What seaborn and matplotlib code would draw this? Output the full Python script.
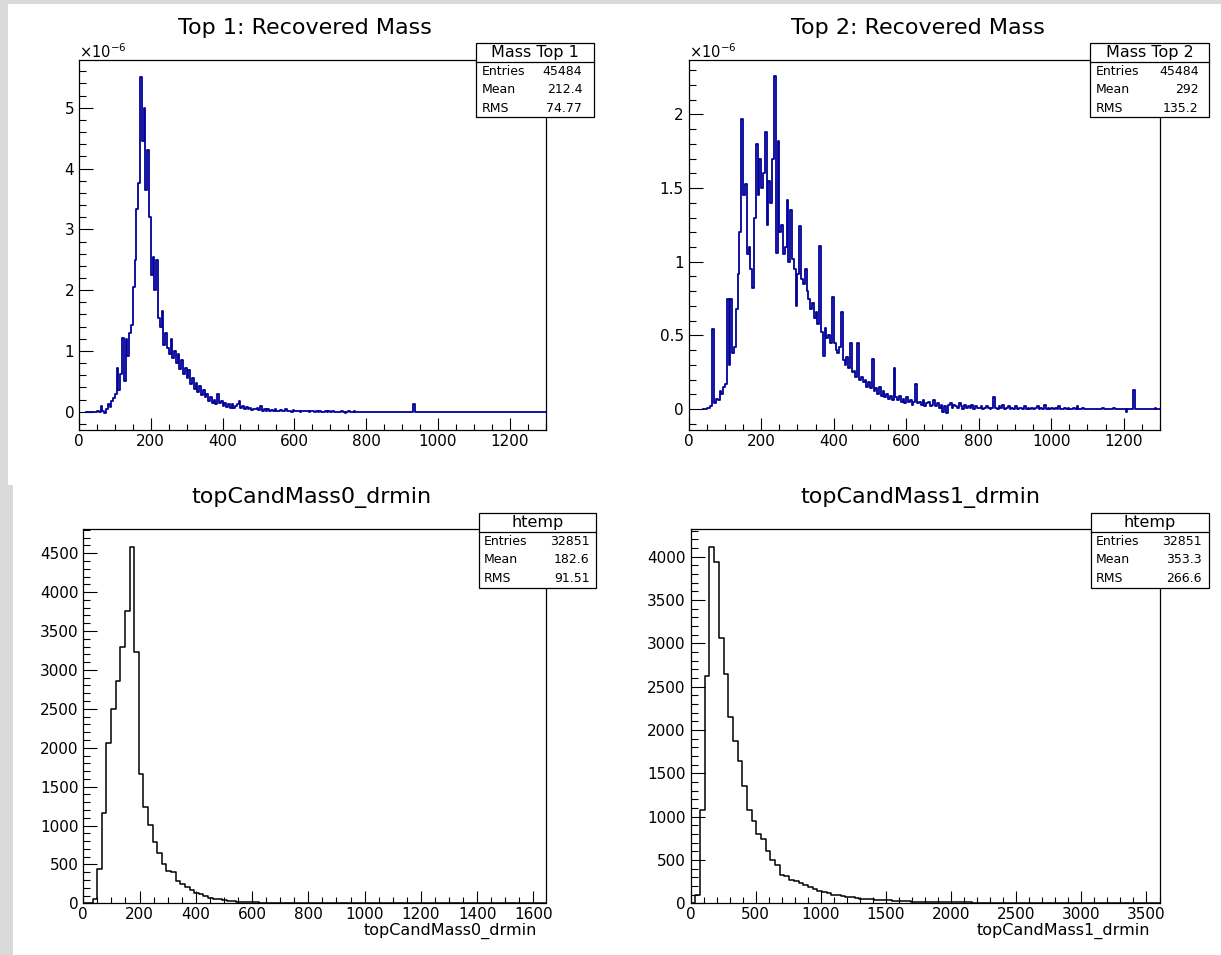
import numpy as np
import matplotlib
matplotlib.use("Agg")
import matplotlib.pyplot as plt
import seaborn as sns
from matplotlib.patches import Rectangle
from matplotlib.lines import Line2D
from matplotlib.ticker import MultipleLocator, FuncFormatter

# ---------------------------------------------------------------
# Data read off the ROOT canvas
# ---------------------------------------------------------------
# Top row: weighted mass histograms, 5 GeV bins, heights in units of 1e-6
top1_start = 20
top1_vals = [
    0.00, 0.00, 0.00, 0.00, 0.00, 0.00, 0.01, 0.00, 0.10, 0.02,   # 20-65
    -0.02, 0.04, 0.12, 0.08, 0.18, 0.22, 0.30, 0.72, 0.36, 0.62,  # 70-115
    1.22, 0.50, 1.20, 0.92, 1.30, 1.42, 2.05, 2.50, 3.33, 3.77,   # 120-165
    5.51, 4.45, 5.00, 3.65, 4.30, 3.20, 2.25, 2.55, 2.00, 2.50,   # 170-215
    1.55, 1.40, 1.65, 1.10, 1.30, 1.05, 0.95, 1.20, 0.88, 1.00,   # 220-265
    0.80, 0.95, 0.70, 0.85, 0.62, 0.72, 0.55, 0.68, 0.45, 0.55,   # 270-315
    0.38, 0.48, 0.32, 0.42, 0.28, 0.35, 0.25, 0.30, 0.18, 0.25,   # 320-365
    0.15, 0.20, 0.12, 0.30, 0.14, 0.18, 0.10, 0.15, 0.08, 0.12,   # 370-415
    0.07, 0.13, 0.06, 0.10, 0.12, 0.18, 0.07, 0.09, 0.05, 0.08,   # 420-465
    0.04, 0.06, 0.03, 0.05, 0.04, 0.07, 0.03, 0.10, 0.02, 0.05,   # 470-515
    0.02, 0.04, 0.01, 0.03, 0.02, 0.05, 0.01, 0.02, 0.03, 0.01,   # 520-565
    0.02, 0.04, 0.01, 0.02, 0.00, 0.03, 0.01, 0.02, 0.01, 0.00,   # 570-615
    0.02, 0.01, 0.01, 0.02, 0.00, 0.01, 0.02, 0.00, 0.01, 0.00,   # 620-665
    0.01, 0.00, -0.01, 0.01, 0.00, 0.01, 0.00, 0.01, 0.00, 0.00,  # 670-715
    -0.01, 0.00, 0.01, 0.00, -0.02, 0.00, 0.01, 0.00, -0.01, 0.01, # 720-765
    0.00,                                                          # 770
]
top1_extra_x = [932.5]
top1_extra_w = [0.13]

top2_start = 40
top2_vals = [
    0.00, 0.00, 0.01, 0.01, 0.02, 0.54, 0.04, 0.07, 0.06, 0.12,   # 40-85
    0.10, 0.15, 0.17, 0.75, 0.30, 0.75, 0.38, 0.42, 0.68, 0.92,   # 90-135
    1.20, 1.97, 1.45, 1.53, 1.05, 1.10, 0.95, 0.82, 1.30, 1.80,   # 140-185
    1.45, 1.70, 1.50, 1.60, 1.88, 1.25, 1.55, 1.40, 1.70, 2.26,   # 190-235
    1.06, 1.82, 1.20, 1.25, 1.05, 1.10, 1.42, 1.00, 1.35, 1.02,   # 240-285
    0.95, 0.70, 0.92, 1.24, 0.88, 0.85, 0.95, 0.80, 0.75, 0.68,   # 290-335
    0.72, 0.62, 0.66, 0.58, 1.11, 0.52, 0.36, 0.55, 0.48, 0.50,   # 340-385
    0.45, 0.76, 0.45, 0.40, 0.38, 0.42, 0.66, 0.33, 0.30, 0.35,   # 390-435
    0.28, 0.45, 0.25, 0.26, 0.22, 0.45, 0.20, 0.22, 0.18, 0.20,   # 440-485
    0.15, 0.18, 0.14, 0.34, 0.12, 0.14, 0.10, 0.15, 0.09, 0.12,   # 490-535
    0.08, 0.10, 0.07, 0.09, 0.06, 0.28, 0.08, 0.06, 0.09, 0.05,   # 540-585
    0.07, 0.04, 0.08, 0.05, 0.06, 0.03, 0.05, 0.17, 0.04, 0.05,   # 590-635
    0.03, 0.06, 0.02, 0.04, 0.05, 0.02, 0.03, 0.06, 0.02, 0.04,   # 640-685
    0.01, 0.03, -0.02, 0.02, -0.03, 0.03, 0.04, 0.01, 0.03, 0.02, # 690-735
    0.01, 0.04, 0.02, 0.00, 0.03, 0.01, 0.02, 0.01, 0.03, 0.00,   # 740-785
    0.02, 0.01, 0.01, 0.02, 0.00, 0.01, 0.02, 0.01, 0.00, 0.01,   # 790-835
    0.08, 0.01, 0.00, 0.02, 0.01, 0.03, 0.00, 0.01, 0.02, 0.00,   # 840-885
    0.01, 0.00, 0.02, 0.00, 0.01, 0.01, 0.00, 0.02, 0.00, 0.01,   # 890-935
    0.00, 0.01, 0.00, 0.01, 0.02, 0.00, 0.01, 0.00, 0.03, 0.00,   # 940-985
    0.01, 0.00, 0.01, 0.00, 0.01, 0.00, 0.02, 0.00, 0.00, 0.01,   # 990-1035
    0.00, 0.01, 0.00, 0.00, 0.01, 0.00, 0.02, 0.00, 0.00, 0.01,   # 1040-1085
    0.00, 0.00,                                                    # 1090-1095
]
top2_extra_x = [1142.5, 1172.5, 1207.5, 1227.5, 1287.5]
top2_extra_w = [0.01, 0.01, -0.02, 0.13, 0.01]

# Bottom row: htemp, 100 bins each, entries per bin (empty bins after the list)
cand0_range = (0, 1643)
cand0_counts = [
    0, 0, 60, 441, 1157, 2057, 2494, 2859, 3292, 3763,
    4586, 3227, 1663, 1243, 1007, 784, 643, 506, 416, 399,
    287, 249, 214, 171, 129, 116, 94, 73, 60, 56,
    39, 30, 26, 21, 17, 17, 13, 11, 10, 8,
    8, 7, 6, 5, 5, 4, 4, 4, 3, 5,
    4, 2, 3, 3, 1,
]
cand1_range = (0, 3600)
cand1_counts = [
    0, 96, 1077, 2623, 4115, 3942, 3065, 2646, 2146, 1877,
    1642, 1358, 1077, 950, 796, 742, 600, 500, 442, 327,
    315, 269, 254, 231, 208, 185, 160, 140, 131, 118,
    100, 92, 84, 77, 68, 62, 55, 50, 47, 42,
    38, 35, 33, 30, 27, 25, 22, 20, 19, 18,
    17, 16, 15, 14, 15, 13, 12, 11, 10, 10,
    9, 8, 9, 8, 6, 3, 2, 1, 2, 1,
    1, 0, 1, 0, 0, 3,
]

titles = ["Top 1: Recovered Mass", "Top 2: Recovered Mass",
          "topCandMass0_drmin", "topCandMass1_drmin"]
box_names = ["Mass Top 1", "Mass Top 2", "htemp", "htemp"]
stat_labels = ["Entries", "Mean", "RMS"]
stat_values = [["45484", "212.4", "74.77"],
               ["45484", "292", "135.2"],
               ["32851", "182.6", "91.51"],
               ["32851", "353.3", "266.6"]]
xlabels = ["", "", "topCandMass0_drmin", "topCandMass1_drmin"]

# ---------------------------------------------------------------
W, H = 1221, 955
plt.rcParams["font.family"] = ["DejaVu Sans"]
fig = plt.figure(figsize=(W / 100, H / 100), dpi=100)
fig.patch.set_facecolor("white")

grey = "#dadada"
for (x0, y0, x1, y1) in [(0, 0, 1221, 4.5), (0, 0, 8.3, 485), (0, 485, 12.7, 955)]:
    fig.add_artist(Rectangle((x0 / W, 1 - y1 / H), (x1 - x0) / W, (y1 - y0) / H,
                             transform=fig.transFigure, facecolor=grey,
                             edgecolor="none", zorder=0))

# pixel boxes (left, top, right, bottom)
frames = [(79, 60, 545.5, 430), (688.7, 60, 1160, 430),
          (83.3, 529.3, 545.5, 903.3), (690.7, 529.3, 1159.5, 903.3)]
title_pos = [(305, 28), (917.7, 28), (311, 498), (920, 498)]
boxes = [(476.3, 593.7, 43.3, 62.3, 117.3), (1090.3, 1208.8, 43.3, 62.3, 117.3),
         (479, 596, 513.3, 531.7, 587.7), (1091, 1208.8, 513.3, 531.7, 587.7)]
val_pad = [11.5, 10.2, 6.3, 7.0]

axes = []
for (l, t, r, b) in frames:
    ax = fig.add_axes([l / W, 1 - b / H, (r - l) / W, (b - t) / H])
    ax.set_facecolor("white")
    axes.append(ax)

blue = "#000099"

# top histograms (5 GeV bins)
for ax, start, vals, ex_x, ex_w, ylim in [
        (axes[0], top1_start, top1_vals, top1_extra_x, top1_extra_w, (-0.30, 5.785)),
        (axes[1], top2_start, top2_vals, top2_extra_x, top2_extra_w, (-0.1426, 2.37))]:
    centers = start + 5 * (np.arange(len(vals)) + 0.5)
    x = np.concatenate([centers, ex_x])
    w = np.concatenate([vals, ex_w])
    sns.histplot(x=x, weights=w, binwidth=5, binrange=(start, 1300),
                 element="step", fill=False, color=blue, linewidth=1.3, ax=ax)
    ax.set_xlim(0, 1300)
    ax.set_ylim(*ylim)
    ax.xaxis.set_major_locator(MultipleLocator(200))
    ax.xaxis.set_minor_locator(MultipleLocator(50))

axes[0].yaxis.set_major_locator(MultipleLocator(1))
axes[0].yaxis.set_minor_locator(MultipleLocator(0.2))
axes[1].yaxis.set_major_locator(MultipleLocator(0.5))
axes[1].yaxis.set_minor_locator(MultipleLocator(0.1))

# bottom histograms (100 bins)
for ax, rng, counts, ymax in [(axes[2], cand0_range, cand0_counts, 4808),
                              (axes[3], cand1_range, cand1_counts, 4315)]:
    width = (rng[1] - rng[0]) / 100
    centers = rng[0] + width * (np.arange(len(counts)) + 0.5)
    sns.histplot(x=centers, weights=counts, bins=100, binrange=rng,
                 element="step", fill=False, color="black", linewidth=1.1, ax=ax)
    ax.set_xlim(*rng)
    ax.set_ylim(0, ymax)
    ax.yaxis.set_major_locator(MultipleLocator(500))
    ax.yaxis.set_minor_locator(MultipleLocator(100))

axes[2].xaxis.set_major_locator(MultipleLocator(200))
axes[2].xaxis.set_minor_locator(MultipleLocator(50))
axes[3].xaxis.set_major_locator(MultipleLocator(500))
axes[3].xaxis.set_minor_locator(MultipleLocator(100))

fmt = FuncFormatter(lambda v, p: f"{v:g}")
for ax in axes:
    ax.set_xlabel("")
    ax.set_ylabel("")
    ax.xaxis.set_major_formatter(fmt)
    ax.yaxis.set_major_formatter(fmt)
    for s in ax.spines.values():
        s.set_linewidth(0.9)
        s.set_color("black")
    ax.tick_params(which="both", direction="in", top=False, right=False,
                   width=0.8, colors="black", labelsize=11)
    ax.tick_params(axis="y", which="major", length=10, pad=3.5)
    ax.tick_params(axis="y", which="minor", length=5)
    ax.tick_params(axis="x", which="major", length=8.5, pad=3)
    ax.tick_params(axis="x", which="minor", length=4)

# exponent label on top plots
for (l, t, r, b) in frames[:2]:
    fig.text(l / W, 1 - 57.5 / H, r"$\times$10$^{-6}$", fontsize=10.5,
             ha="left", va="baseline")

# titles and x-axis titles
for (cx, cy), title in zip(title_pos, titles):
    fig.text(cx / W, 1 - cy / H, title, fontsize=16, ha="center", va="center")
for (l, t, r, b), lab in zip(frames, xlabels):
    if lab:
        fig.text((r - 9) / W, 1 - 931 / H, lab, fontsize=11.5, ha="right", va="center")

# stats boxes
for (x0, x1, y0, yd, y1), name, vals, vp in zip(boxes, box_names, stat_values, val_pad):
    fig.add_artist(Rectangle((x0 / W, 1 - y1 / H), (x1 - x0) / W, (y1 - y0) / H,
                             transform=fig.transFigure, facecolor="white",
                             edgecolor="black", linewidth=0.9, zorder=5))
    fig.add_artist(Line2D([x0 / W, x1 / W], [1 - yd / H, 1 - yd / H],
                          transform=fig.transFigure, color="black",
                          linewidth=0.9, zorder=6))
    fig.text((x0 + x1) / 2 / W, 1 - (y0 + yd) / 2 / H, name, fontsize=11.5,
             ha="center", va="center", zorder=7)
    row_h = (y1 - yd) / 3
    for i, (lab, v) in enumerate(zip(stat_labels, vals)):
        yc = yd + row_h * (i + 0.5)
        fig.text((x0 + 5) / W, 1 - yc / H, lab, fontsize=9, ha="left",
                 va="center", zorder=7)
        fig.text((x1 - vp) / W, 1 - yc / H, v, fontsize=9, ha="right",
                 va="center", zorder=7)

fig.savefig("out.png", dpi=100, facecolor="white")
